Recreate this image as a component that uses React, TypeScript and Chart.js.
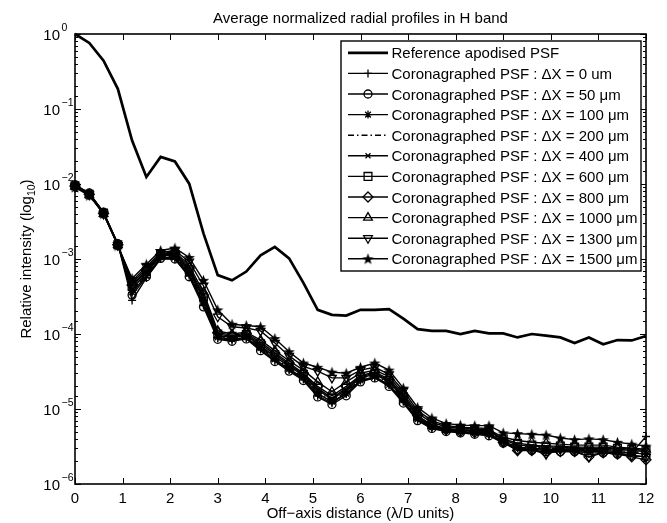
import React, { useEffect, useRef } from 'react';
import { Chart, registerables } from 'chart.js';
import { drawPoint } from 'chart.js/helpers';

Chart.register(...registerables);

const FONT = '"Liberation Sans", Arial, Helvetica, sans-serif';

const titleText = 'Average normalized radial profiles in H band';
const xTitle = 'Off\u2212axis distance (\u03bb/D units)';
const yTitleMain = 'Relative intensity (log';
const yTitleSub = '10';
const yTitleEnd = ')';

// off-axis distance (lambda/D)
const xValues = [
  0, 0.3, 0.6, 0.9, 1.2, 1.5, 1.8, 2.1, 2.4, 2.7,
  3.0, 3.3, 3.6, 3.9, 4.2, 4.5, 4.8, 5.1, 5.4, 5.7,
  6.0, 6.3, 6.6, 6.9, 7.2, 7.5, 7.8, 8.1, 8.4, 8.7,
  9.0, 9.3, 9.6, 9.9, 10.2, 10.5, 10.8, 11.1, 11.4, 11.7, 12.0,
];

const xTicks = [0, 1, 2, 3, 4, 5, 6, 7, 8, 9, 10, 11, 12];
const yDecades = [0, -1, -2, -3, -4, -5, -6];

const referencePSF = [
  1.0, 0.76, 0.44, 0.186, 0.038, 0.0124, 0.023, 0.020, 0.0101, 0.0022,
  6.1e-4, 5.2e-4, 6.8e-4, 1.12e-3, 1.45e-3, 1.02e-3, 4.8e-4, 2.1e-4, 1.8e-4, 1.76e-4,
  2.1e-4, 2.1e-4, 2.15e-4, 1.6e-4, 1.16e-4, 1.1e-4, 1.1e-4, 1.0e-4, 1.1e-4, 1.02e-4,
  1.02e-4, 9.0e-5, 1.0e-4, 9.5e-5, 9.0e-5, 7.6e-5, 9.0e-5, 7.3e-5, 8.3e-5, 8.2e-5, 9.4e-5,
];

const coro0 = [
  9.5e-3, 7.5e-3, 4.2e-3, 1.6e-3, 2.8e-4, 5.6e-4, 1.0e-3, 1.0e-3, 6.0e-4, 2.4e-4,
  8.8e-5, 8.2e-5, 8.8e-5, 6.2e-5, 4.4e-5, 3.3e-5, 2.5e-5, 1.5e-5, 1.2e-5, 1.6e-5,
  2.4e-5, 2.6e-5, 2.1e-5, 1.25e-5, 7.2e-6, 5.6e-6, 5.1e-6, 4.9e-6, 4.7e-6, 4.5e-6,
  3.6e-6, 3.0e-6, 2.9e-6, 2.8e-6, 2.8e-6, 2.8e-6, 2.7e-6, 2.7e-6, 2.6e-6, 2.6e-6, 4.3e-6,
];
const coro50 = [
  9.8e-3, 7.6e-3, 4.2e-3, 1.6e-3, 3.3e-4, 5.8e-4, 1.02e-3, 1.0e-3, 5.8e-4, 2.3e-4,
  8.5e-5, 8.0e-5, 8.6e-5, 6.0e-5, 4.3e-5, 3.2e-5, 2.4e-5, 1.45e-5, 1.15e-5, 1.5e-5,
  2.3e-5, 2.6e-5, 2.0e-5, 1.2e-5, 7.0e-6, 5.5e-6, 5.0e-6, 4.8e-6, 4.6e-6, 4.4e-6,
  3.5e-6, 2.9e-6, 2.8e-6, 2.7e-6, 2.7e-6, 2.7e-6, 2.6e-6, 2.6e-6, 2.5e-6, 2.4e-6, 2.3e-6,
];
const coro100 = [
  9.6e-3, 7.5e-3, 4.2e-3, 1.58e-3, 3.6e-4, 6.0e-4, 1.05e-3, 1.05e-3, 6.3e-4, 2.6e-4,
  9.0e-5, 8.5e-5, 9.0e-5, 6.5e-5, 4.6e-5, 3.4e-5, 2.6e-5, 1.6e-5, 1.25e-5, 1.6e-5,
  2.4e-5, 2.7e-5, 2.1e-5, 1.3e-5, 7.3e-6, 5.7e-6, 5.2e-6, 5.0e-6, 4.8e-6, 4.6e-6,
  3.7e-6, 3.1e-6, 3.0e-6, 2.9e-6, 2.9e-6, 2.8e-6, 2.8e-6, 2.8e-6, 2.7e-6, 2.6e-6, 2.5e-6,
];
const coro200 = [
  9.5e-3, 7.4e-3, 4.15e-3, 1.57e-3, 3.8e-4, 6.2e-4, 1.08e-3, 1.08e-3, 6.5e-4, 2.7e-4,
  9.2e-5, 8.7e-5, 9.2e-5, 6.7e-5, 4.8e-5, 3.5e-5, 2.7e-5, 1.7e-5, 1.3e-5, 1.7e-5,
  2.5e-5, 2.8e-5, 2.2e-5, 1.35e-5, 7.5e-6, 5.8e-6, 5.3e-6, 5.1e-6, 4.9e-6, 4.8e-6,
  3.8e-6, 3.2e-6, 3.1e-6, 3.0e-6, 3.0e-6, 2.9e-6, 2.9e-6, 2.9e-6, 2.8e-6, 2.7e-6, 2.6e-6,
];
const coro400 = [
  9.4e-3, 7.4e-3, 4.1e-3, 1.56e-3, 4.0e-4, 6.5e-4, 1.1e-3, 1.12e-3, 6.8e-4, 2.9e-4,
  9.5e-5, 9.0e-5, 9.5e-5, 7.0e-5, 5.0e-5, 3.7e-5, 2.8e-5, 1.8e-5, 1.35e-5, 1.8e-5,
  2.6e-5, 2.9e-5, 2.3e-5, 1.4e-5, 7.8e-6, 6.0e-6, 5.4e-6, 5.2e-6, 5.1e-6, 5.0e-6,
  3.9e-6, 3.3e-6, 3.2e-6, 3.1e-6, 3.1e-6, 3.0e-6, 3.0e-6, 3.0e-6, 2.9e-6, 2.8e-6, 2.7e-6,
];
const coro600 = [
  9.5e-3, 7.3e-3, 4.1e-3, 1.55e-3, 4.3e-4, 6.8e-4, 1.13e-3, 1.16e-3, 7.2e-4, 3.1e-4,
  1.0e-4, 9.3e-5, 9.8e-5, 7.4e-5, 5.3e-5, 3.9e-5, 2.9e-5, 1.9e-5, 1.4e-5, 1.9e-5,
  2.7e-5, 3.0e-5, 2.4e-5, 1.45e-5, 8.0e-6, 6.2e-6, 5.5e-6, 5.3e-6, 5.2e-6, 5.1e-6,
  4.0e-6, 3.5e-6, 3.3e-6, 3.2e-6, 3.2e-6, 3.1e-6, 3.1e-6, 3.1e-6, 3.0e-6, 2.9e-6, 2.8e-6,
];
const coro800 = [
  9.4e-3, 7.3e-3, 4.05e-3, 1.55e-3, 4.5e-4, 7.0e-4, 1.15e-3, 1.2e-3, 7.6e-4, 3.3e-4,
  1.05e-4, 9.6e-5, 1.02e-4, 7.8e-5, 5.6e-5, 4.1e-5, 3.0e-5, 2.0e-5, 1.5e-5, 2.0e-5,
  2.8e-5, 3.1e-5, 2.5e-5, 1.5e-5, 8.2e-6, 6.0e-6, 5.3e-6, 5.0e-6, 4.9e-6, 4.8e-6,
  3.6e-6, 2.8e-6, 2.8e-6, 2.6e-6, 2.7e-6, 2.7e-6, 2.3e-6, 2.6e-6, 2.5e-6, 2.3e-6, 2.1e-6,
];
const coro1000 = [
  9.3e-3, 7.2e-3, 4.0e-3, 1.54e-3, 4.8e-4, 7.4e-4, 1.18e-3, 1.25e-3, 8.2e-4, 3.6e-4,
  1.1e-4, 1.0e-4, 1.06e-4, 8.3e-5, 6.0e-5, 4.4e-5, 3.3e-5, 2.3e-5, 1.7e-5, 2.3e-5,
  3.0e-5, 3.3e-5, 2.7e-5, 1.6e-5, 8.8e-6, 6.6e-6, 5.8e-6, 5.5e-6, 5.4e-6, 5.3e-6,
  4.2e-6, 3.8e-6, 3.6e-6, 3.5e-6, 3.4e-6, 3.3e-6, 3.3e-6, 3.3e-6, 3.1e-6, 3.0e-6, 2.9e-6,
];
const coro1300 = [
  9.2e-3, 7.2e-3, 4.0e-3, 1.53e-3, 5.1e-4, 7.9e-4, 1.22e-3, 1.3e-3, 9.2e-4, 4.4e-4,
  1.7e-4, 1.25e-4, 1.2e-4, 1.1e-4, 7.6e-5, 5.1e-5, 3.7e-5, 3.2e-5, 2.6e-5, 2.6e-5,
  3.3e-5, 3.6e-5, 2.9e-5, 1.75e-5, 9.5e-6, 7.0e-6, 6.0e-6, 5.7e-6, 5.6e-6, 5.5e-6,
  3.6e-6, 2.8e-6, 2.9e-6, 2.5e-6, 2.9e-6, 2.8e-6, 2.3e-6, 2.7e-6, 2.6e-6, 2.4e-6, 2.3e-6,
];
const coro1500 = [
  9.0e-3, 7.0e-3, 4.0e-3, 1.5e-3, 5.5e-4, 8.5e-4, 1.3e-3, 1.4e-3, 1.05e-3, 5.2e-4,
  2.1e-4, 1.35e-4, 1.3e-4, 1.25e-4, 8.7e-5, 5.8e-5, 4.1e-5, 3.6e-5, 3.1e-5, 3.0e-5,
  3.6e-5, 4.1e-5, 3.3e-5, 1.9e-5, 1.05e-5, 7.6e-6, 6.4e-6, 6.1e-6, 6.0e-6, 6.0e-6,
  4.8e-6, 4.7e-6, 4.6e-6, 4.5e-6, 4.1e-6, 3.9e-6, 4.0e-6, 3.9e-6, 3.6e-6, 3.4e-6, 3.2e-6,
];

const seriesLabels = [
  'Reference apodised PSF',
  'Coronagraphed PSF : \u0394X = 0 um',
  'Coronagraphed PSF : \u0394X = 50 \u03bcm',
  'Coronagraphed PSF : \u0394X = 100 \u03bcm',
  'Coronagraphed PSF : \u0394X = 200 \u03bcm',
  'Coronagraphed PSF : \u0394X = 400 \u03bcm',
  'Coronagraphed PSF : \u0394X = 600 \u03bcm',
  'Coronagraphed PSF : \u0394X = 800 \u03bcm',
  'Coronagraphed PSF : \u0394X = 1000 \u03bcm',
  'Coronagraphed PSF : \u0394X = 1300 \u03bcm',
  'Coronagraphed PSF : \u0394X = 1500 \u03bcm',
];

const seriesValues = [
  referencePSF, coro0, coro50, coro100, coro200, coro400,
  coro600, coro800, coro1000, coro1300, coro1500,
];

type Style = { marker: string; radius: number; rotation?: number; width: number; dash?: number[] };

function makePentagram(): HTMLCanvasElement {
  const s = 13;
  const c = document.createElement('canvas');
  c.width = s;
  c.height = s;
  const g = c.getContext('2d')!;
  g.beginPath();
  for (let k = 0; k < 10; k++) {
    const r = k % 2 === 0 ? 6 : 2.5;
    const a = -Math.PI / 2 + (k * Math.PI) / 5;
    const px = s / 2 + r * Math.cos(a);
    const py = s / 2 + 0.5 + r * Math.sin(a);
    if (k === 0) g.moveTo(px, py);
    else g.lineTo(px, py);
  }
  g.closePath();
  g.fillStyle = '#000';
  g.fill();
  return c;
}

export default function App() {
  const ref = useRef<HTMLCanvasElement | null>(null);

  useEffect(() => {
    const canvas = ref.current;
    if (!canvas) return;
    const pent = makePentagram();

    const styles: Style[] = [
      { marker: 'none', radius: 0, width: 2.7 },
      { marker: 'cross', radius: 4, width: 1.4 },
      { marker: 'circle', radius: 4, width: 1.4 },
      { marker: 'star', radius: 4, width: 1.4 },
      { marker: 'none', radius: 0, width: 1.4, dash: [6, 3, 1.5, 3] },
      { marker: 'crossRot', radius: 3.5, width: 1.4 },
      { marker: 'rect', radius: 5.5, width: 1.4 },
      { marker: 'rectRot', radius: 5, width: 1.4 },
      { marker: 'triangle', radius: 5, width: 1.4 },
      { marker: 'triangle', radius: 5, rotation: 180, width: 1.4 },
      { marker: 'pent', radius: 6, width: 1.4 },
    ];

    const datasets = seriesValues.map((vals, i) => {
      const st = styles[i];
      const ps: any = st.marker === 'pent' ? pent : st.marker === 'none' ? 'circle' : st.marker;
      return {
        label: seriesLabels[i],
        data: vals.map((v, k) => ({ x: xValues[k], y: v })),
        borderColor: '#000',
        backgroundColor: 'rgba(0,0,0,0)',
        borderWidth: st.width,
        borderDash: st.dash || [],
        pointStyle: ps,
        pointRadius: st.radius,
        pointRotation: st.rotation || 0,
        pointBorderColor: '#000',
        pointBackgroundColor: 'rgba(0,0,0,0)',
        pointBorderWidth: 1.3,
        tension: 0,
        fill: false,
        clip: false as any,
        order: seriesValues.length - i,
      };
    });

    const frame = {
      id: 'matlabFrame',
      afterDraw(chart: any) {
        const ctx: CanvasRenderingContext2D = chart.ctx;
        const area = chart.chartArea;
        const xs = chart.scales.x;
        const ys = chart.scales.y;
        ctx.save();
        // box
        ctx.strokeStyle = '#000';
        ctx.lineWidth = 1.6;
        ctx.strokeRect(area.left, area.top, area.right - area.left, area.bottom - area.top);
        // x ticks
        ctx.lineWidth = 1;
        ctx.beginPath();
        xTicks.forEach((t) => {
          const px = Math.round(xs.getPixelForValue(t)) + 0.5;
          ctx.moveTo(px, area.bottom);
          ctx.lineTo(px, area.bottom - 6);
          ctx.moveTo(px, area.top);
          ctx.lineTo(px, area.top + 6);
        });
        // y ticks (major and minor, from the log scale)
        ys.ticks.forEach((t: any) => {
          const v = t.value;
          const lg = Math.log10(v);
          const major = Math.abs(lg - Math.round(lg)) < 1e-6;
          const len = major ? 6 : 3;
          const py = Math.round(ys.getPixelForValue(v)) + 0.5;
          ctx.moveTo(area.left, py);
          ctx.lineTo(area.left + len, py);
          ctx.moveTo(area.right, py);
          ctx.lineTo(area.right - len, py);
        });
        ctx.stroke();

        // y tick labels 10^n
        ctx.fillStyle = '#000';
        yDecades.forEach((d) => {
          const py = ys.getPixelForValue(Math.pow(10, d));
          ctx.font = `15px ${FONT}`;
          ctx.textAlign = 'right';
          ctx.textBaseline = 'alphabetic';
          ctx.fillText('10', 60, py + 6);
          ctx.font = `10.5px ${FONT}`;
          ctx.textAlign = 'left';
          ctx.fillText(d === 0 ? '0' : '\u2212' + String(-d), 61.5, py - 3);
        });

        // title
        ctx.font = `15px ${FONT}`;
        ctx.textAlign = 'center';
        ctx.textBaseline = 'alphabetic';
        const cx = (area.left + area.right) / 2;
        ctx.fillText(titleText, cx, 23);
        // x title
        ctx.fillText(xTitle, cx, 518);
        // y title with subscript
        const cy = (area.top + area.bottom) / 2;
        ctx.save();
        ctx.translate(31, cy);
        ctx.rotate(-Math.PI / 2);
        ctx.font = `15px ${FONT}`;
        const w1 = ctx.measureText(yTitleMain).width;
        ctx.font = `10.5px ${FONT}`;
        const w2 = ctx.measureText(yTitleSub).width;
        ctx.font = `15px ${FONT}`;
        const w3 = ctx.measureText(yTitleEnd).width;
        let sx = -(w1 + w2 + w3) / 2;
        ctx.textAlign = 'left';
        ctx.fillText(yTitleMain, sx, 0);
        sx += w1;
        ctx.font = `10.5px ${FONT}`;
        ctx.fillText(yTitleSub, sx, 4);
        sx += w2;
        ctx.font = `15px ${FONT}`;
        ctx.fillText(yTitleEnd, sx, 0);
        ctx.restore();

        // legend
        const lx = 341, ly = 41, lw = 300, lh = 230;
        ctx.fillStyle = '#fff';
        ctx.fillRect(lx, ly, lw, lh);
        ctx.strokeStyle = '#000';
        ctx.lineWidth = 1.4;
        ctx.strokeRect(lx, ly, lw, lh);
        chart.data.datasets.forEach((ds: any, i: number) => {
          const rowY = 52.8 + i * 20.6;
          ctx.save();
          ctx.strokeStyle = '#000';
          ctx.lineWidth = ds.borderWidth;
          ctx.setLineDash(ds.borderDash || []);
          ctx.beginPath();
          ctx.moveTo(348, rowY);
          ctx.lineTo(388, rowY);
          ctx.stroke();
          ctx.setLineDash([]);
          if (ds.pointRadius > 0) {
            ctx.fillStyle = 'rgba(0,0,0,0)';
            ctx.strokeStyle = '#000';
            ctx.lineWidth = 1.3;
            drawPoint(ctx, {
              pointStyle: ds.pointStyle,
              radius: ds.pointRadius,
              rotation: ds.pointRotation,
              borderWidth: 1.3,
            } as any, 368, rowY);
          }
          ctx.restore();
          ctx.fillStyle = '#000';
          ctx.font = `15px ${FONT}`;
          ctx.textAlign = 'left';
          ctx.textBaseline = 'alphabetic';
          ctx.fillText(ds.label, 391.5, rowY + 5.5);
        });
        ctx.restore();
      },
    };

    const chart = new Chart(canvas, {
      type: 'line',
      data: { datasets: datasets as any },
      options: {
        animation: false,
        responsive: false,
        events: [],
        layout: { padding: { top: 34, right: 21, left: 0, bottom: 0 } },
        plugins: {
          legend: { display: false },
          title: { display: false },
          tooltip: { enabled: false },
        },
        scales: {
          x: {
            type: 'linear',
            min: 0,
            max: 12,
            ticks: {
              stepSize: 1,
              autoSkip: false,
              maxRotation: 0,
              color: '#000',
              font: { family: FONT, size: 15 },
              padding: 6,
            },
            grid: { display: false, drawTicks: false },
            border: { display: false },
            afterFit: (s: any) => {
              s.height = 39;
            },
          },
          y: {
            type: 'logarithmic',
            min: 1e-6,
            max: 1,
            ticks: { display: false, autoSkip: false },
            grid: { display: false, drawTicks: false },
            border: { display: false },
            afterFit: (s: any) => {
              s.width = 75;
            },
          },
        },
      } as any,
      plugins: [frame],
    });

    return () => chart.destroy();
  }, []);

  return (
    <div style={{ position: 'absolute', left: 0, top: 0, width: 667, height: 523, background: '#fff' }}>
      <canvas ref={ref} width={667} height={523} />
    </div>
  );
}
